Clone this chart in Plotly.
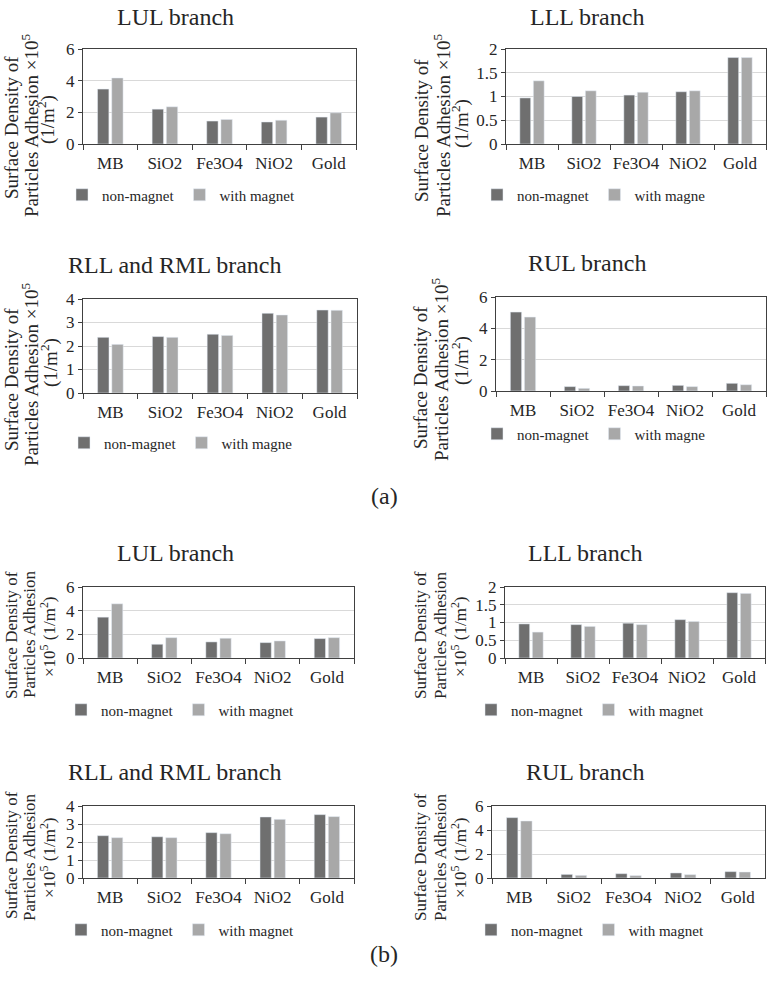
import plotly.graph_objects as go

W, H = 775, 995

categories = ["MB", "SiO2", "Fe3O4", "NiO2", "Gold"]

# ---- (a) ----
lul_a_non = [3.47, 2.2, 1.45, 1.39, 1.7]
lul_a_with = [4.17, 2.35, 1.55, 1.5, 1.97]
lll_a_non = [0.97, 1.0, 1.03, 1.1, 1.82]
lll_a_with = [1.33, 1.12, 1.09, 1.12, 1.82]
rll_a_non = [2.37, 2.4, 2.5, 3.39, 3.53]
rll_a_with = [2.07, 2.37, 2.45, 3.32, 3.52]
rul_a_non = [5.04, 0.28, 0.34, 0.36, 0.49]
rul_a_with = [4.72, 0.17, 0.32, 0.28, 0.4]
# ---- (b) ----
lul_b_non = [3.45, 1.16, 1.36, 1.3, 1.64]
lul_b_with = [4.58, 1.72, 1.67, 1.44, 1.72]
lll_b_non = [0.96, 0.94, 0.98, 1.08, 1.84]
lll_b_with = [0.73, 0.89, 0.94, 1.03, 1.82]
rll_b_non = [2.35, 2.29, 2.52, 3.39, 3.52]
rll_b_with = [2.24, 2.24, 2.46, 3.26, 3.41]
rul_b_non = [5.03, 0.3, 0.36, 0.42, 0.53]
rul_b_with = [4.75, 0.22, 0.2, 0.28, 0.5]

panel_titles = ["LUL branch", "LLL branch", "RLL and RML branch", "RUL branch",
                "LUL branch", "LLL branch", "RLL and RML branch", "RUL branch"]
non_label = "non-magnet"
with_labels = ["with magnet", "with magne", "with magne", "with magne",
               "with magnet", "with magnet", "with magnet", "with magnet"]
series_non = [lul_a_non, lll_a_non, rll_a_non, rul_a_non,
              lul_b_non, lll_b_non, rll_b_non, rul_b_non]
series_with = [lul_a_with, lll_a_with, rll_a_with, rul_a_with,
               lul_b_with, lll_b_with, rll_b_with, rul_b_with]
y_max = [6, 2, 4, 6, 6, 2, 4, 6]
y_dtick = [2, 0.5, 1, 2, 2, 0.5, 1, 2]

ytitle_a = ["Surface Density of", "Particles Adhesion ×10<sup>5</sup>", "(1/m<sup>2</sup>)"]
ytitle_b = ["Surface Density of", "Particles Adhesion", "×10<sup>5</sup> (1/m<sup>2</sup>)"]

# layout geometry in pixels (left, right, top, bottom)
plot_px = [(83, 356, 49, 144), (506, 766, 49, 144),
           (83, 357, 299, 393), (496, 766, 297, 391),
           (83, 354, 587, 658), (505, 765, 587, 658),
           (83, 354, 806, 878), (492, 765, 806, 878)]
title_px = [(175, 17), (587, 17), (175, 265), (587, 263),
            (175, 553), (585, 553), (175, 772), (585, 772)]
legend_px = [(62, 195), (477, 195), (64, 443), (477, 434),
             (61, 710), (471, 710), (61, 930), (471, 930)]
ytitle_x = [(11, 30, 47), (421, 442, 460), (11, 30, 49), (420, 440, 460),
            (11, 29, 48), (420, 440, 459), (11, 29, 48), (420, 440, 459)]
ytitle_y = [(128, 126, 120), (131, 126, 123), (380, 375, 363), (378, 370, 360),
            (635, 634, 637), (635, 635, 637), (855, 857, 858), (857, 857, 858)]

FONT = "Liberation Serif"
TXT = "#262626"
C_NON = "#6f6f6f"
C_WITH = "#a8a8a8"


def px_x(v):
    return v / W


def px_y(v):
    return 1 - v / H


fig = go.Figure()
annotations = []
layout = {}

for i in range(8):
    n = i + 1
    sfx = "" if n == 1 else str(n)
    lg = "legend" if n == 1 else f"legend{n}"
    fig.add_trace(go.Bar(x=categories, y=series_non[i], name=non_label,
                         marker_color=C_NON, xaxis=f"x{sfx}", yaxis=f"y{sfx}",
                         legend=lg))
    fig.add_trace(go.Bar(x=categories, y=series_with[i], name=with_labels[i],
                         marker_color=C_WITH, xaxis=f"x{sfx}", yaxis=f"y{sfx}",
                         legend=lg))
    l, r, t, b = plot_px[i]
    layout[f"xaxis{sfx}"] = dict(
        domain=[px_x(l), px_x(r)], anchor=f"y{sfx}", type="category",
        showline=True, linecolor="#404040", linewidth=1, mirror=True,
        ticks="outside", tickson="boundaries", ticklen=5, tickcolor="#404040",
        showgrid=False, tickangle=0, automargin=False, ticklabelstandoff=4,
        tickfont=dict(family=FONT, size=17, color=TXT),
        fixedrange=True)
    layout[f"yaxis{sfx}"] = dict(
        domain=[px_y(b), px_y(t)], anchor=f"x{sfx}", range=[0, y_max[i]],
        dtick=y_dtick[i], tick0=0, showline=True, linecolor="#404040",
        linewidth=1, mirror=True, ticks="outside", ticklen=4,
        tickcolor="#404040", showgrid=True, gridcolor="#d9d9d9",
        zeroline=False, automargin=False,
        tickfont=dict(family=FONT, size=17, color=TXT),
        fixedrange=True)
    lx, ly = legend_px[i]
    layout[lg] = dict(orientation="h", x=px_x(lx), y=px_y(ly),
                      xanchor="left", yanchor="middle",
                      font=dict(family=FONT, size=15, color=TXT),
                      itemwidth=30, bgcolor="rgba(0,0,0,0)",
                      itemclick=False, itemdoubleclick=False)
    tx, ty = title_px[i]
    annotations.append(dict(text=panel_titles[i], x=px_x(tx), y=px_y(ty),
                            xref="paper", yref="paper", showarrow=False,
                            xanchor="center", yanchor="middle",
                            font=dict(family=FONT, size=24, color=TXT)))
    lines = ytitle_a if i < 4 else ytitle_b
    fsize = 19 if i < 4 else 17
    for k in range(3):
        annotations.append(dict(text=lines[k], x=px_x(ytitle_x[i][k]),
                                y=px_y(ytitle_y[i][k]), xref="paper",
                                yref="paper", showarrow=False, textangle=-90,
                                xanchor="center", yanchor="middle",
                                font=dict(family=FONT, size=fsize, color=TXT)))

annotations.append(dict(text="(a)", x=px_x(384), y=px_y(496), xref="paper",
                        yref="paper", showarrow=False,
                        font=dict(family=FONT, size=24, color=TXT)))
annotations.append(dict(text="(b)", x=px_x(384), y=px_y(969), xref="paper",
                        yref="paper", showarrow=False,
                        font=dict(family=FONT, size=24, color=TXT)))

fig.update_layout(
    width=W, height=H, margin=dict(l=0, r=0, t=0, b=0, autoexpand=False),
    paper_bgcolor="white", plot_bgcolor="white",
    barmode="group", bargap=0.48, bargroupgap=0.2,
    font=dict(family=FONT, color=TXT),
    annotations=annotations,
    **layout,
)

fig.write_html(
    "out.html",
    config={"displayModeBar": False},
    post_script="document.body.style.margin='0';document.body.style.padding='0';",
)
